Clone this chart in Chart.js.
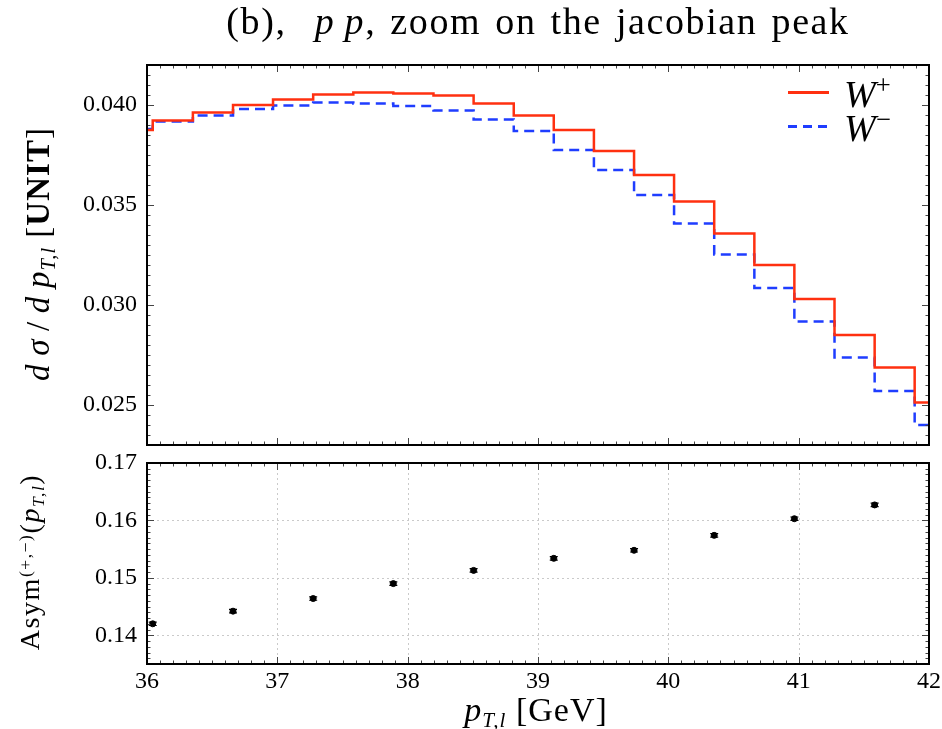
<!DOCTYPE html>
<html>
<head>
<meta charset="utf-8">
<script src="https://cdn.jsdelivr.net/npm/chart.js@4.4.0/dist/chart.umd.min.js"></script>
<style>
  body{margin:0;background:#fff;}
  #wrap{position:relative;width:942px;height:729px;overflow:hidden;font-family:"Liberation Serif",serif;color:#000;}
  #topBox{position:absolute;left:0;top:0;width:942px;height:452px;}
  #botBox{position:absolute;left:0;top:452px;width:942px;height:277px;}
  .txt{position:absolute;white-space:nowrap;line-height:1;}
  .sub{font-size:0.62em;position:relative;top:0.3em;}
  .sup{font-size:0.62em;position:relative;top:-0.45em;}
  .lsup{font-size:0.7em;position:relative;top:-0.5em;}
  .rot{transform:translate(-50%,-50%) rotate(-90deg);}
  .cen{transform:translate(-50%,-50%);}
</style>
</head>
<body>
<div id="wrap">
  <div id="topBox"><canvas id="topChart"></canvas></div>
  <div id="botBox"><canvas id="botChart"></canvas></div>

  <div class="txt" id="title" style="left:147px;width:782px;top:2px;font-size:38px;letter-spacing:1.6px;word-spacing:3px;text-align:center;">(b),&nbsp; <i>p&thinsp;p</i>, zoom on the jacobian peak</div>
  <div class="txt rot" style="left:38px;top:254px;font-size:33px;letter-spacing:1px;"><i>d&thinsp;σ</i>&thinsp;/&thinsp;<i>d&thinsp;p</i><span class="sub"><i>T,l</i></span> [<b>UNIT</b>]</div>
  <div class="txt rot" style="left:30px;top:562px;font-size:28px;letter-spacing:1.6px;">Asym<span class="sup">(+,−)</span>(<i>p</i><span class="sub"><i>T,l</i></span>)</div>
  <div class="txt cen" style="left:536px;top:710px;font-size:34px;letter-spacing:1px;"><i>p</i><span class="sub"><i>T,l</i></span> [GeV]</div>

  <div style="position:absolute;left:788px;top:91px;width:41px;height:2.5px;background:#ff3010;"></div>
  <div style="position:absolute;left:788px;top:125px;width:41px;height:2.5px;background:repeating-linear-gradient(to right,#1f3dff 0 9px,transparent 9px 15px);"></div>
  <div class="txt" style="left:844px;top:75px;font-size:38px;"><i>W</i><span class="lsup">+</span></div>
  <div class="txt" style="left:844px;top:109px;font-size:38px;"><i>W</i><span class="lsup">−</span></div>
</div>

<script>
// bin edges of the histogram (GeV), first and last are the axis limits
const binEdges = [36.0, 36.044, 36.352, 36.66, 36.967, 37.275, 37.583, 37.89, 38.198, 38.506, 38.814,
                  39.121, 39.429, 39.737, 40.044, 40.352, 40.66, 40.967, 41.275, 41.583, 41.89, 42.0];
// dsigma/dpT per bin
const wPlus  = [0.03875, 0.03922, 0.03963, 0.04000, 0.04028, 0.04052, 0.04063, 0.04057, 0.04048, 0.04007,
                0.03948, 0.03875, 0.03770, 0.03650, 0.03517, 0.03358, 0.03200, 0.03030, 0.02850, 0.02687, 0.02512];
const wMinus = [0.03880, 0.03917, 0.03947, 0.03980, 0.03998, 0.04012, 0.04008, 0.03995, 0.03972, 0.03928,
                0.03870, 0.03775, 0.03675, 0.03550, 0.03408, 0.03253, 0.03085, 0.02917, 0.02738, 0.02570, 0.02400];

// asymmetry points
const asymX   = [36.044, 36.66, 37.275, 37.89, 38.506, 39.121, 39.737, 40.352, 40.967, 41.583];
const asymY   = [0.1420, 0.1442, 0.1464, 0.1490, 0.1513, 0.1534, 0.1548, 0.1574, 0.1603, 0.1627];
const asymErr = [0.0003, 0.0003, 0.0003, 0.0003, 0.0003, 0.0003, 0.0003, 0.0003, 0.0003, 0.0003];

// tick labels
const xTicks = [36, 37, 38, 39, 40, 41, 42];
const topYTicks = [0.025, 0.030, 0.035, 0.040];
const botYTicks = [0.14, 0.15, 0.16, 0.17];

const FONT = { family: '"Liberation Serif", serif', size: 24 };

function stepPoints(vals){
  return binEdges.map((x, i) => ({ x, y: vals[Math.min(i, vals.length - 1)] }));
}

function minorValues(min, max, step){
  const out = [];
  const n = Math.round((max - min) / step);
  for(let i = 0; i <= n; i++) out.push(min + i * step);
  return out;
}

// frame, inward ticks and dotted grid, drawn through the chart scales
const framePlugin = {
  id: 'frame',
  beforeDatasetsDraw(chart, args, o){
    if(!o.grid) return;
    const { ctx, chartArea: a, scales: { x, y } } = chart;
    ctx.save();
    ctx.strokeStyle = '#cacaca';
    ctx.lineWidth = 1;
    ctx.setLineDash([2, 3]);
    ctx.beginPath();
    o.xMajor.forEach(v => {
      const px = Math.round(x.getPixelForValue(v)) + 0.5;
      if(px < a.left + 2 || px > a.right - 2) return;
      ctx.moveTo(px, a.top); ctx.lineTo(px, a.bottom);
    });
    o.yMajor.forEach(v => {
      const py = Math.round(y.getPixelForValue(v)) + 0.5;
      if(py < a.top + 2 || py > a.bottom - 2) return;
      ctx.moveTo(a.left, py); ctx.lineTo(a.right, py);
    });
    ctx.stroke();
    ctx.restore();
  },
  afterDatasetsDraw(chart, args, o){
    const { ctx, chartArea: a, scales: { x, y } } = chart;
    ctx.save();
    ctx.strokeStyle = '#444';
    ctx.lineWidth = 1;
    ctx.beginPath();
    const xt = (v, len) => {
      const px = Math.round(x.getPixelForValue(v)) + 0.5;
      ctx.moveTo(px, a.bottom); ctx.lineTo(px, a.bottom - len);
      ctx.moveTo(px, a.top); ctx.lineTo(px, a.top + len);
    };
    const yt = (v, len) => {
      const py = Math.round(y.getPixelForValue(v)) + 0.5;
      ctx.moveTo(a.left, py); ctx.lineTo(a.left + len, py);
      ctx.moveTo(a.right, py); ctx.lineTo(a.right - len, py);
    };
    minorValues(x.min, x.max, o.xStep).forEach(v => xt(v, 3.5));
    minorValues(y.min, y.max, o.yStep).forEach(v => yt(v, 3.5));
    o.xMajor.forEach(v => xt(v, 7));
    o.yMajor.forEach(v => yt(v, 7));
    ctx.stroke();
    ctx.strokeStyle = '#000';
    ctx.lineWidth = 2;
    ctx.strokeRect(a.left, a.top, a.right - a.left, a.bottom - a.top);
    ctx.restore();
  }
};

const errorBarPlugin = {
  id: 'errbars',
  afterDatasetsDraw(chart){
    const { ctx, scales: { x, y } } = chart;
    ctx.save();
    ctx.strokeStyle = '#000';
    ctx.lineWidth = 1.2;
    ctx.beginPath();
    asymX.forEach((v, i) => {
      const px = x.getPixelForValue(v);
      const hi = y.getPixelForValue(asymY[i] + asymErr[i]);
      const lo = y.getPixelForValue(asymY[i] - asymErr[i]);
      ctx.moveTo(px, hi); ctx.lineTo(px, lo);
      ctx.moveTo(px - 4, hi); ctx.lineTo(px + 4, hi);
      ctx.moveTo(px - 4, lo); ctx.lineTo(px + 4, lo);
    });
    ctx.stroke();
    ctx.restore();
  }
};

function fixedTicks(list){
  return scale => { scale.ticks = list.map(v => ({ value: v })); };
}

// y axis: fixed width, and no extra label padding pushed into the layout
function yFit(s){
  s.width = 147;
  s.paddingTop = 0;
  s.paddingBottom = 0;
}

Chart.defaults.font.family = FONT.family;
Chart.defaults.color = '#000';

new Chart(document.getElementById('topChart'), {
  type: 'line',
  data: {
    datasets: [
      { label: 'W+', data: stepPoints(wPlus), stepped: 'before', borderColor: '#ff3010', borderWidth: 2.5,
        pointRadius: 0, fill: false },
      { label: 'W-', data: stepPoints(wMinus), stepped: 'before', borderColor: '#1f3dff', borderWidth: 2.5,
        borderDash: [10, 6], pointRadius: 0, fill: false }
    ]
  },
  options: {
    responsive: true,
    maintainAspectRatio: false,
    animation: false,
    layout: { padding: { top: 65, right: 13, left: 0, bottom: 0 } },
    plugins: {
      legend: { display: false },
      tooltip: { enabled: false },
      frame: { xMajor: xTicks, yMajor: topYTicks, xStep: 0.1, yStep: 0.0005, grid: false }
    },
    scales: {
      x: {
        type: 'linear', min: 36, max: 42,
        grid: { display: false, drawTicks: false }, border: { display: false },
        ticks: { display: false },
        afterBuildTicks: fixedTicks(xTicks),
        afterFit: s => { s.height = 7; }
      },
      y: {
        min: 0.023, max: 0.042,
        grid: { display: false, drawTicks: false }, border: { display: false },
        ticks: { font: FONT, padding: 10, callback: v => v.toFixed(3) },
        afterBuildTicks: fixedTicks(topYTicks),
        afterFit: yFit
      }
    }
  },
  plugins: [framePlugin]
});

new Chart(document.getElementById('botChart'), {
  type: 'scatter',
  data: {
    datasets: [
      { label: 'Asym', data: asymX.map((x, i) => ({ x, y: asymY[i] })),
        backgroundColor: '#000', borderColor: '#000', pointRadius: 3, pointHoverRadius: 3 }
    ]
  },
  options: {
    responsive: true,
    maintainAspectRatio: false,
    animation: false,
    layout: { padding: { top: 11, right: 13, left: 0, bottom: 0 } },
    plugins: {
      legend: { display: false },
      tooltip: { enabled: false },
      frame: { xMajor: xTicks, yMajor: botYTicks, xStep: 0.1, yStep: 0.001, grid: true }
    },
    scales: {
      x: {
        type: 'linear', min: 36, max: 42,
        grid: { display: false, drawTicks: false }, border: { display: false },
        ticks: { font: FONT, padding: 3, maxRotation: 0, callback: v => String(v) },
        afterBuildTicks: fixedTicks(xTicks),
        afterFit: s => { s.height = 65; s.paddingRight = 0; s.paddingLeft = 0; }
      },
      y: {
        min: 0.135, max: 0.17,
        grid: { display: false, drawTicks: false }, border: { display: false },
        ticks: { font: FONT, padding: 10, callback: v => v.toFixed(2) },
        afterBuildTicks: fixedTicks(botYTicks),
        afterFit: yFit
      }
    }
  },
  plugins: [errorBarPlugin, framePlugin]
});
</script>
</body>
</html>
